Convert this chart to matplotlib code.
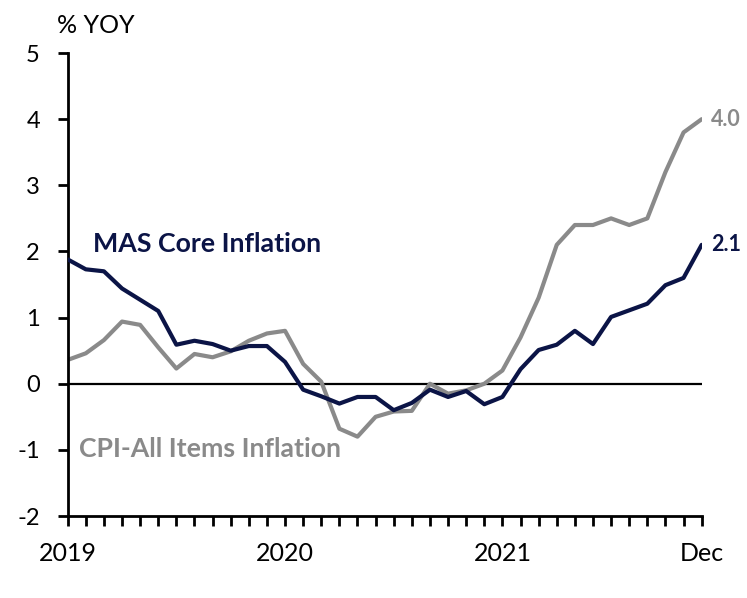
import numpy as np
import matplotlib.pyplot as plt

plt.rcParams['font.family'] = ['Lato', 'DejaVu Sans']

# monthly, Jan 2019 - Dec 2021, % YOY
months = np.arange(36)
mas_core = [1.88, 1.73, 1.70, 1.44, 1.27, 1.10, 0.59, 0.65, 0.60, 0.50, 0.57, 0.57,
            0.33, -0.09, -0.19, -0.30, -0.20, -0.20, -0.40, -0.29, -0.09, -0.20, -0.11, -0.31,
            -0.20, 0.22, 0.51, 0.59, 0.80, 0.60, 1.01, 1.11, 1.21, 1.49, 1.60, 2.10]
cpi_all = [0.36, 0.46, 0.66, 0.94, 0.89, 0.55, 0.23, 0.45, 0.40, 0.49, 0.65, 0.76,
           0.80, 0.30, 0.03, -0.68, -0.80, -0.50, -0.42, -0.41, 0.00, -0.15, -0.10, 0.00,
           0.20, 0.70, 1.30, 2.10, 2.40, 2.40, 2.50, 2.40, 2.50, 3.20, 3.80, 4.00]
x_labels = {0: '2019', 12: '2020', 24: '2021', 35: 'Dec'}
y_ticks = [-2, -1, 0, 1, 2, 3, 4, 5]

navy = '#0b1446'
grey = '#8a8a8a'

fig = plt.figure(figsize=(7.47, 5.98), dpi=100)
ax = fig.add_axes([0.0906, 0.1371, 0.8487, 0.7742])

ax.axhline(0, color='black', lw=1.6, zorder=1)
ax.plot(months, cpi_all, color=grey, lw=3, solid_capstyle='round', zorder=2)
ax.plot(months, mas_core, color=navy, lw=3, solid_capstyle='round', zorder=3)

ax.set_xlim(0, 35)
ax.set_ylim(-2, 5)
ax.set_yticks(y_ticks)
ax.set_yticklabels([str(v) for v in y_ticks])
ax.set_xticks(months)
ax.set_xticklabels([x_labels.get(m, '') for m in months])

for s in ['top', 'right']:
    ax.spines[s].set_visible(False)
for s in ['left', 'bottom']:
    ax.spines[s].set_linewidth(2)
ax.tick_params(axis='y', length=7, width=2, labelsize=17, pad=13)
ax.tick_params(axis='x', length=7, width=2, labelsize=18, pad=12)

ax.text(-0.6, 5.41, '% YOY', fontsize=18, ha='left', va='center')

ax.text(1.4, 2.12, 'MAS Core Inflation', color=navy, fontsize=19.3, fontweight='bold',
        ha='left', va='center')
ax.text(0.6, -0.98, 'CPI-All Items Inflation', color=grey, fontsize=19.2, fontweight='bold',
        ha='left', va='center')

ax.annotate(f'{cpi_all[-1]:.1f}', (35, cpi_all[-1]), xytext=(7, 0), textcoords='offset points',
            color=grey, fontsize=15.5, fontweight='bold', va='center', annotation_clip=False)
ax.annotate(f'{mas_core[-1]:.1f}', (35, mas_core[-1]), xytext=(7, 0), textcoords='offset points',
            color=navy, fontsize=15.5, fontweight='bold', va='center', annotation_clip=False)

fig.savefig('out.png', dpi=100)
